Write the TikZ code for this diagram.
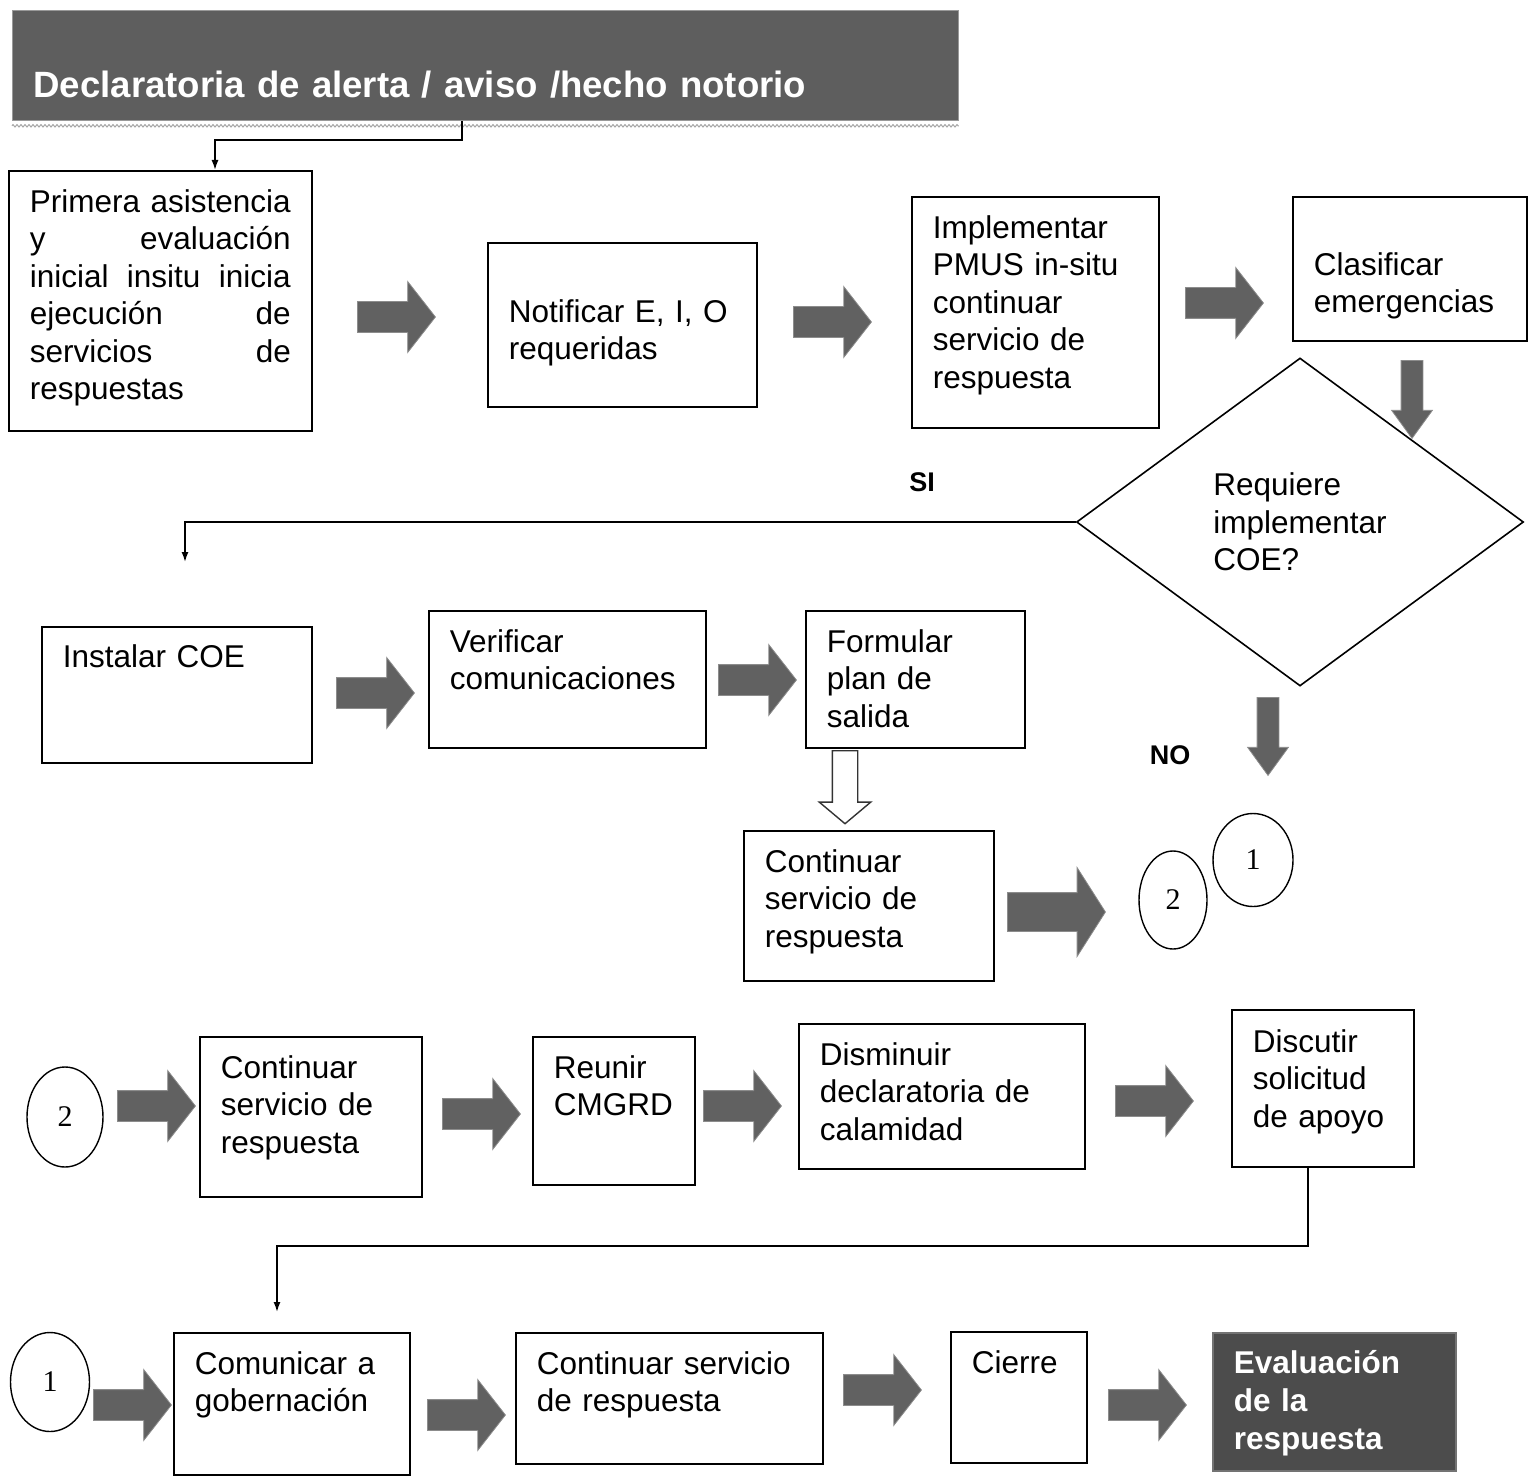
\documentclass[tikz,border=0pt]{standalone}
\usepackage{fontspec}
\setmainfont{Liberation Sans}
\newfontfamily\numfont{Liberation Serif}
\usetikzlibrary{shapes.geometric,shapes.arrows,arrows.meta,decorations.pathmorphing}

\tikzset{
  txtfont/.style={font=\fontsize{15.75}{18.75}\selectfont},
  box/.style={draw, line width=0.8pt, anchor=north west, align=left,
    inner xsep=10.5pt, inner ysep=0pt, txtfont},
  hdr/.style={fill=black!63, draw=black!40, anchor=north west, align=left,
    inner xsep=10.5pt, inner ysep=0pt, text=white,
    font=\bfseries\fontsize{18.3}{22}\selectfont},
  dec/.style={diamond, draw, line width=0.8pt, inner sep=0pt, align=left, txtfont},
  circ/.style={ellipse, draw, line width=0.7pt, inner sep=0pt,
    font=\numfont\fontsize{15}{15}\selectfont},
  rarr/.style={single arrow, fill=black!62, draw=black!45, line width=0.4pt,
    anchor=tail, inner sep=7.5pt, minimum height=39pt,
    single arrow head extend=10pt, single arrow tip angle=104},
  darr/.style={rarr, shape border rotate=270, inner sep=5.25pt, minimum height=39pt,
    single arrow head extend=4.75pt, single arrow tip angle=72},
  bigarr/.style={rarr, inner sep=9.5pt, minimum height=49pt,
    single arrow head extend=12.5pt, single arrow tip angle=115},
  hollow/.style={single arrow, draw=black!80, fill=white, line width=0.7pt,
    anchor=tail, inner sep=6pt, shape border rotate=270, minimum height=36.5pt,
    single arrow head extend=6.5pt, single arrow tip angle=100},
  conn/.style={line width=0.8pt, -{Latex[length=5pt,width=3.5pt]}},
  lbl/.style={font=\bfseries\fontsize{13.5}{16}\selectfont},
  wavy/.style={draw=black!35, line width=0.5pt, decorate,
    decoration={zigzag, segment length=2pt, amplitude=0.6pt}}
}

\begin{document}
\begin{tikzpicture}[x=0.5pt, y=-0.5pt]
  \useasboundingbox (0,0) rectangle (1534,1476);

  % header
  \node[hdr, text width=452pt, text height=43.5pt, text depth=11.5pt] (hdr) at (12,10)
    {Declaratoria de alerta / aviso /hecho notorio};
  \draw[wavy] ([yshift=-2.5pt]hdr.south west) -- ([yshift=-2.5pt]hdr.south east);

  % first row
  \node[box, text width=130.5pt, text height=20.8pt, text depth=109.2pt] (primera) at (8,170)
    {Primera\hfill asistencia\\ y\hfill evaluación\\ inicial\hfill insitu\hfill inicia\\
     ejecución\hfill de\\ servicios\hfill de\\ respuestas};
  \node[box, text width=113.5pt, text height=39.8pt, text depth=42.2pt] (notif) at (487,242)
    {Notificar E, I, O\\requeridas};
  \node[box, text width=102.5pt, text height=20.8pt, text depth=94.7pt] (pmus) at (911,196)
    {Implementar\\PMUS in-situ\\continuar\\servicio de\\respuesta};
  \node[box, text width=96pt, text height=39.3pt, text depth=32.7pt] (clasif) at (1292,196)
    {Clasificar\\emergencias};
  \node[dec, minimum width=223.5pt, minimum height=164pt] (dia) at (1300,522)
    {Requiere\\implementar\\COE?};

  \node[rarr] (a1) at (357,317) {};
  \node[rarr] (a2) at (793,322) {};
  \node[rarr] (a3) at (1185,303) {};
  \node[darr] (a4) at (1412,360) {};
  \node[darr] (ano) at (1268,697) {};
  \node[lbl] (si) at (922,482) {SI};
  \node[lbl] (no) at (1170,755) {NO};

  % second row
  \node[box, text width=114pt, text height=20.3pt, text depth=47.7pt] (coe) at (41,626)
    {Instalar COE};
  \node[box, text width=117.5pt, text height=20.8pt, text depth=47.7pt] (verif) at (428,610)
    {Verificar\\comunicaciones};
  \node[box, text width=88.5pt, text height=20.8pt, text depth=47.7pt] (plan) at (805,610)
    {Formular\\plan de\\salida};
  \node[box, text width=104pt, text height=20.8pt, text depth=54.2pt] (cont1) at (743,830)
    {Continuar\\servicio de\\respuesta};
  \node[rarr] (a5) at (336,693) {};
  \node[rarr] (a6) at (718,680) {};
  \node[hollow] (a7) at (845,750) {};
  \node[bigarr] (a8) at (1007,912) {};
  \node[circ, minimum width=34pt, minimum height=49pt] (c2a) at (1173,900) {2};
  \node[circ, minimum width=40pt, minimum height=46.5pt] (c1a) at (1253,860) {1};

  % third row
  \node[circ, minimum width=38pt, minimum height=50pt] (c2b) at (65,1117) {2};
  \node[box, text width=90pt, text height=20.8pt, text depth=59.2pt] (cont2) at (199,1036)
    {Continuar\\servicio de\\respuesta};
  \node[box, text width=60pt, text height=20.8pt, text depth=53.2pt] (cmgrd) at (532,1036)
    {Reunir\\CMGRD};
  \node[box, text width=122pt, text height=20.8pt, text depth=51.7pt] (dismin) at (798,1023)
    {Disminuir\\declaratoria de\\calamidad};
  \node[box, text width=70pt, text height=21.3pt, text depth=57.2pt] (disc) at (1231,1009)
    {Discutir\\solicitud\\de apoyo};
  \node[rarr] (a9) at (117,1106) {};
  \node[rarr] (a10) at (442,1114) {};
  \node[rarr] (a11) at (703,1106) {};
  \node[rarr] (a12) at (1115,1101) {};

  % fourth row
  \node[circ, minimum width=39.5pt, minimum height=49.5pt] (c1b) at (50,1382) {1};
  \node[box, text width=97pt, text height=20.8pt, text depth=50.2pt] (comun) at (173,1332)
    {Comunicar a\\gobernación};
  \node[box, text width=132.5pt, text height=20.8pt, text depth=44.7pt] (cont3) at (515,1332)
    {Continuar servicio\\de respuesta};
  \node[box, text width=47pt, text height=20.8pt, text depth=44.7pt] (cierre) at (950,1331)
    {Cierre};
  \node[box, fill=black!70, draw=black!55, text=white, text width=100.5pt,
    text height=20.5pt, text depth=48.5pt, font=\bfseries\fontsize{15.75}{19}\selectfont]
    (eval) at (1212,1332) {Evaluación\\de la\\respuesta};
  \node[rarr] (a13) at (93,1405) {};
  \node[rarr] (a14) at (427,1415) {};
  \node[rarr] (a15) at (843,1390) {};
  \node[rarr] (a16) at (1108,1405) {};

  % connectors
  \coordinate (hd1) at (462,140);
  \coordinate (hd2) at (215,140);
  \draw[conn] (hdr.south -| hd1) -- (hd1) -- (hd2) -- (hd2 |- primera.north);
  \coordinate (siend) at (185,562);
  \draw[conn] (dia.west) -| (siend);
  \coordinate (dj) at (1308,1246);
  \coordinate (cmend) at (277,1312);
  \draw[conn] (disc.south -| dj) -- (dj) -| (cmend);
\end{tikzpicture}
\end{document}
